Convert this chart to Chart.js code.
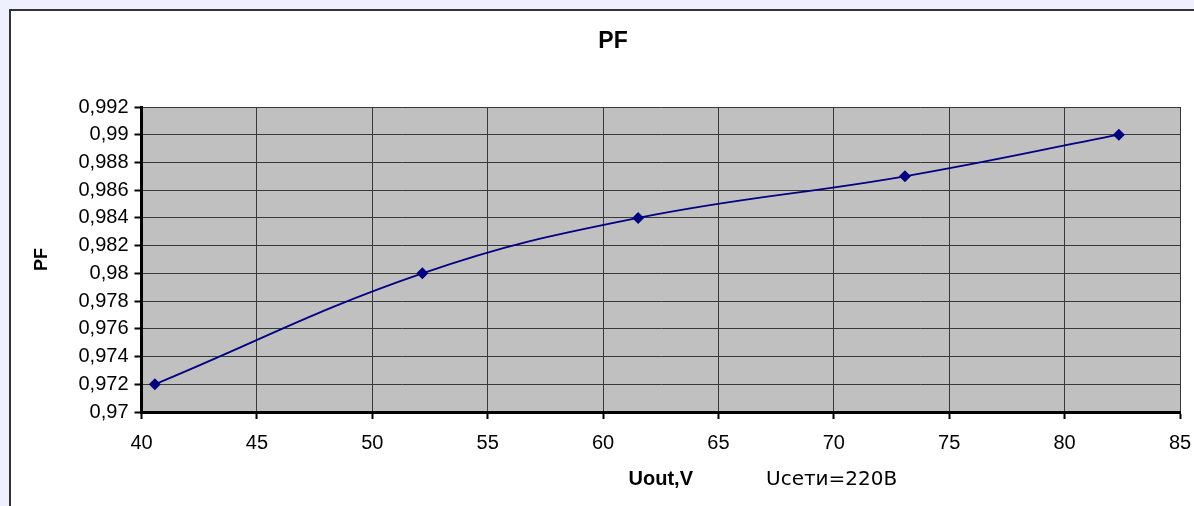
<!DOCTYPE html>
<html>
<head>
<meta charset="utf-8">
<script src="https://cdn.jsdelivr.net/npm/chart.js@4/dist/chart.umd.min.js"></script>
<style>
  html, body { margin: 0; padding: 0; overflow: hidden; }
  body { background: #eef1fd; width: 1194px; height: 506px; position: relative; }
  #caixa { position: absolute; left: 9px; top: 9px; width: 1206px; height: 520px;
           border: 2px solid #333; background: #fff; }
  canvas { display: block; }
</style>
</head>
<body>
<div id="caixa"><canvas id="cvs_grafico_pf" width="1206" height="520"></canvas></div>
<script>
// dados
var uout = [40.58, 52.17, 61.52, 73.08, 82.35];
var pf = [0.972, 0.98, 0.984, 0.987, 0.99];
var ticksY = [0.97, 0.972, 0.974, 0.976, 0.978, 0.98, 0.982, 0.984, 0.986, 0.988, 0.99, 0.992];
var rotulosY = ["0,97", "0,972", "0,974", "0,976", "0,978", "0,98", "0,982", "0,984", "0,986", "0,988", "0,99", "0,992"];
var ticksX = [40, 45, 50, 55, 60, 65, 70, 75, 80, 85];

const grafico = document.getElementById("cvs_grafico_pf");

// fundo cinza da área de plotagem, título "PF" e texto "Uсети=220В"
const fundoPlot = {
  id: "fundoPlot",
  beforeDraw(chart) {
    const { ctx, chartArea } = chart;
    ctx.save();
    ctx.fillStyle = "#c0c0c0";
    ctx.fillRect(chartArea.left, chartArea.top, chartArea.right - chartArea.left, chartArea.bottom - chartArea.top);
    ctx.restore();
  },
  afterDraw(chart) {
    const ctx = chart.ctx;
    ctx.save();
    ctx.fillStyle = "#000";
    ctx.textBaseline = "middle";
    ctx.textAlign = "center";
    ctx.font = "bold 23px 'Liberation Sans', Arial";
    ctx.fillText("PF", 602, 31);
    ctx.textAlign = "left";
    ctx.font = "20px 'DejaVu Sans'";
    ctx.fillText("Uсети=220В", 755, 469);
    ctx.restore();
  },
};

new Chart(grafico, {
  type: "line",
  data: {
    datasets: [
      {
        label: "PF",
        data: uout.map((x, i) => ({ x: x, y: pf[i] })),
        borderColor: "#000080",
        backgroundColor: "#000080",
        borderWidth: 1.8,
        tension: 0.4,
        pointStyle: "rectRot",
        pointRadius: 6,
        pointHoverRadius: 6,
        pointBorderWidth: 0,
      },
    ],
  },
  options: {
    responsive: false,
    animation: false,
    layout: { padding: { left: 0, right: 37, top: 96, bottom: 22 } },
    plugins: {
      legend: { display: false },
      tooltip: { enabled: false },
      title: { display: false },
    },
    scales: {
      x: {
        type: "linear",
        min: 40,
        max: 85,
        afterBuildTicks: (axis) => {
          axis.ticks = ticksX.map((v) => ({ value: v }));
        },
        ticks: {
          color: "#000",
          padding: 12,
          maxRotation: 0,
          autoSkip: false,
          font: { size: 20, family: "'Liberation Sans', Arial" },
        },
        grid: { color: "#383838", lineWidth: 1, tickLength: 7, tickColor: "#000", tickWidth: 2 },
        border: { color: "#000", width: 3 },
        title: {
          display: true,
          text: "Uout,V",
          color: "#000",
          font: { size: 20, weight: "bold", family: "'Liberation Sans', Arial" },
          padding: { top: 0, bottom: 18 },
        },
      },
      y: {
        min: 0.97,
        max: 0.992,
        afterBuildTicks: (axis) => {
          axis.ticks = ticksY.map((v) => ({ value: v }));
        },
        afterFit: (axis) => {
          axis.width = 130.5;
        },
        ticks: {
          color: "#000",
          padding: 6,
          autoSkip: false,
          font: { size: 20, family: "'Liberation Sans', Arial" },
          callback: (valor, indice) => rotulosY[indice],
        },
        grid: { color: "#383838", lineWidth: 1, tickLength: 7, tickColor: "#000", tickWidth: 2 },
        border: { color: "#000", width: 3 },
        title: {
          display: true,
          text: "PF",
          color: "#000",
          font: { size: 18, weight: "bold", family: "'Liberation Sans', Arial" },
          padding: { top: 20, bottom: 0 },
        },
      },
    },
  },
  plugins: [fundoPlot],
});
</script>
</body>
</html>
